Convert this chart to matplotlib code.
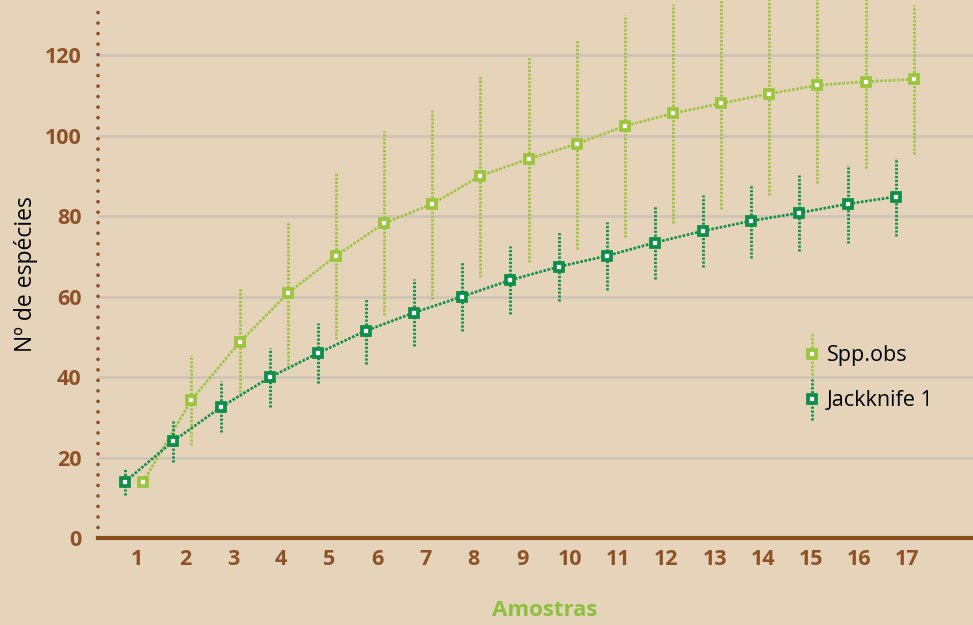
import matplotlib
matplotlib.use("Agg")
import matplotlib.pyplot as plt
from matplotlib.container import ErrorbarContainer
from matplotlib.legend_handler import HandlerErrorbar
import numpy as np

# Species accumulation: observed richness and first-order Jackknife estimate
samples = list(range(1, 18))
tick_labels = [str(s) for s in samples]

spp_obs = [14.0, 34.3, 48.6, 60.8, 70.1, 78.2, 83.0, 90.0, 94.2, 97.9,
           102.4, 105.5, 108.0, 110.4, 112.5, 113.4, 114.0]
spp_obs_sd = [0.0, 11.2, 13.4, 17.9, 20.7, 22.9, 23.6, 25.1, 25.6, 26.2,
              27.5, 27.3, 26.3, 25.2, 24.2, 21.4, 18.5]

jack1 = [14.0, 24.1, 32.6, 39.9, 45.9, 51.5, 56.0, 60.0, 64.1, 67.4,
         70.1, 73.4, 76.3, 78.8, 80.8, 83.0, 84.8]
jack1_sd = [3.3, 5.2, 6.3, 7.3, 7.5, 8.2, 8.4, 8.5, 8.5, 8.6,
            8.5, 9.1, 8.9, 9.1, 9.4, 9.7, 9.7]

series_names = ["Spp.obs", "Jackknife 1"]
y_ticks = [0, 20, 40, 60, 80, 100, 120]

BG = "#e5d3ba"
BROWN = "#8b4c1e"
TICK_BROWN = "#8e5226"
LIGHT_GREEN = "#9bc53d"
DARK_GREEN = "#0d8f48"
GRID = "#cdc3b6"
LABEL_GREEN = "#8dc03f"

W, H = 973, 625
fig = plt.figure(figsize=(W / 100, H / 100), dpi=100, facecolor=BG)
ax = fig.add_axes([98 / W, 87 / H, 875 / W, 528 / H])
ax.set_facecolor(BG)

x = np.array(samples, dtype=float)
x_jack = x - 0.24
x_obs = x + 0.135

def draw_series(xs, ys, err, color, label, z):
    ax.plot(xs, ys, color=color, lw=1.9, linestyle=(0, (1, 0.6)),
            zorder=z, clip_on=False)
    cont = ax.errorbar(xs, ys, yerr=err, fmt="s", color=color, ms=6,
                       mew=2.7, mfc="white", mec=color, elinewidth=2.0,
                       capsize=0, zorder=z + 0.5, label=label)
    for coll in cont[2]:
        coll.set_linestyle((0, (0.8, 0.6)))
        coll.set_clip_on(False)
    cont[0].set_clip_on(False)
    return cont

c_obs = draw_series(x_obs, spp_obs, spp_obs_sd, LIGHT_GREEN, series_names[0], 3)
c_jack = draw_series(x_jack, jack1, jack1_sd, DARK_GREEN, series_names[1], 5)

ax.set_xlim(0.196, 18.364)
ax.set_ylim(0, 131.2)
ax.set_xticks(samples)
ax.set_xticklabels(tick_labels)
ax.set_yticks(y_ticks)

ax.grid(axis="y", color=GRID, lw=1.8, zorder=0)
ax.set_axisbelow(True)
ax.tick_params(axis="both", length=0, labelcolor=TICK_BROWN, labelsize=15.5)
ax.tick_params(axis="y", pad=12)
ax.tick_params(axis="x", pad=8)
for lab in ax.get_xticklabels() + ax.get_yticklabels():
    lab.set_fontfamily("Open Sans")
    lab.set_fontweight("bold")

for side in ("top", "right", "left"):
    ax.spines[side].set_visible(False)
ax.spines["bottom"].set_color(BROWN)
ax.spines["bottom"].set_linewidth(3)
ax.spines["bottom"].set_zorder(10)

# dotted vertical axis line
ax.plot([0, 0], [0, 1], transform=ax.transAxes, color=BROWN, lw=2.6,
        linestyle=(0, (0.01, 2.9)), dash_capstyle="round",
        solid_capstyle="round", clip_on=False, zorder=9)

ax.set_xlabel("Amostras", fontsize=16, fontweight="bold", color=LABEL_GREEN,
              fontfamily="Open Sans")
ax.xaxis.set_label_coords(0.511, -0.117)
ax.set_ylabel("Nº de espécies", fontsize=16.5, color="black",
              fontfamily="Open Sans")
ax.yaxis.set_label_coords(-0.068, 0.5)

leg = ax.legend(handles=[c_obs, c_jack], loc="upper left",
                bbox_to_anchor=(786 / W, 1 - 326 / H),
                bbox_transform=fig.transFigure, frameon=False,
                prop={"family": "Open Sans", "size": 15.5},
                handlelength=0.6, handletextpad=0.4, labelspacing=1.1,
                handler_map={ErrorbarContainer: HandlerErrorbar(yerr_size=1.0)})

fig.savefig("out.png", dpi=100, facecolor=BG)
